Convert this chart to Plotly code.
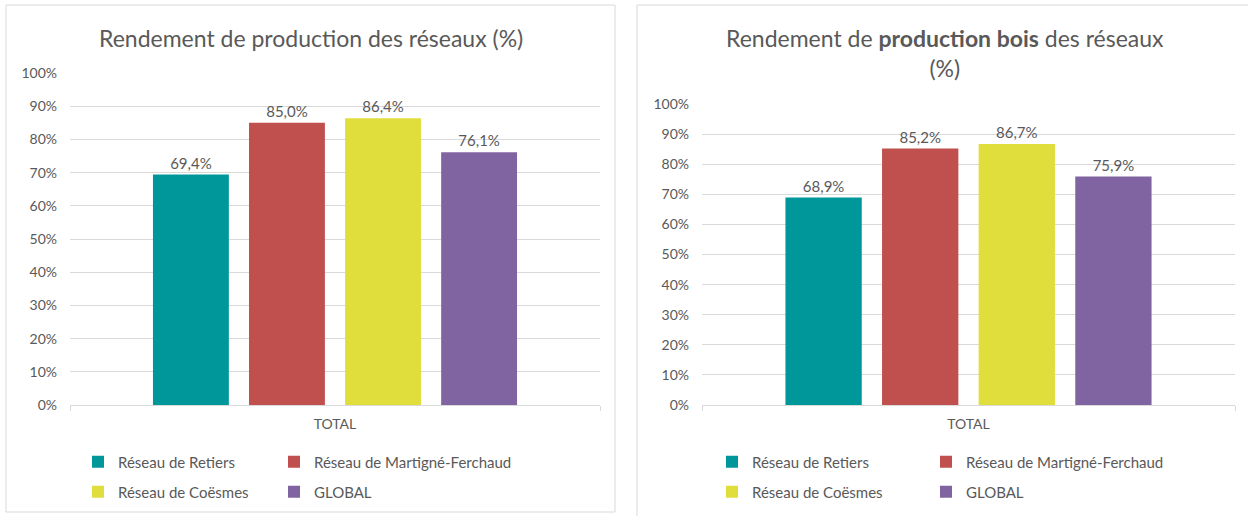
import plotly.graph_objects as go

categories = ["TOTAL"]
series_names = ["Réseau de Retiers", "Réseau de Martigné-Ferchaud", "Réseau de Coësmes", "GLOBAL"]
colors = ["#00979B", "#C0504D", "#E0DE3C", "#8064A2"]
prod_values = [0.694, 0.850, 0.864, 0.761]
bois_values = [0.689, 0.852, 0.867, 0.759]
y_ticks = [0, 0.1, 0.2, 0.3, 0.4, 0.5, 0.6, 0.7, 0.8, 0.9, 1.0]

W, H = 1248, 516
FONT = "Lato, Carlito, Calibri, sans-serif"
GREY = "#595959"

def px(x):
    return x / W

def py(y):
    return 1 - y / H

fig = go.Figure()

# legend slots: (x of legend box left, y center) per panel / series
legend_pos = [
    [(78, 462), (274, 462), (78, 492), (274, 492)],
    [(712, 462), (926, 462), (712, 492), (926, 492)],
]
leg_layout = {}
k = 0
for panel, vals in enumerate([prod_values, bois_values]):
    xa = "x" if panel == 0 else "x2"
    ya = "y" if panel == 0 else "y2"
    for i, name in enumerate(series_names):
        k += 1
        lid = "legend" if k == 1 else f"legend{k}"
        fig.add_trace(go.Bar(
            x=categories, y=[vals[i]], name=name,
            marker=dict(color=colors[i], line=dict(width=0)),
            texttemplate="%{y:.1%}", textposition="outside",
            textfont=dict(family=FONT, size=15, color=GREY),
            cliponaxis=False,
            xaxis=xa, yaxis=ya,
            legend=lid,
            showlegend=True,
        ))
        lx, ly = legend_pos[panel][i]
        leg_layout[lid] = dict(x=px(lx), y=py(ly), xanchor="left", yanchor="middle",
                               orientation="h", font=dict(family=FONT, size=15, color=GREY),
                               bgcolor="rgba(0,0,0,0)", itemclick=False, itemdoubleclick=False)

axis_common = dict(tickfont=dict(family=FONT, size=14, color=GREY))
xaxis_common = dict(showgrid=False, showline=True, linecolor="#D9D9D9", ticks="outside",
                    tickson="boundaries", ticklen=5, tickcolor="#D9D9D9", automargin=False,
                    ticklabelstandoff=6, **axis_common)
yaxis_common = dict(range=[0, 1], tickvals=y_ticks, tickformat=".0%", showgrid=True,
                    gridcolor="#D9D9D9", zeroline=False, showline=False, ticks="",
                    automargin=False, ticklabelstandoff=12, **axis_common)
fig.update_layout(
    width=W, height=H,
    margin=dict(l=0, r=0, t=0, b=0, pad=0, autoexpand=False),
    paper_bgcolor="white", plot_bgcolor="white",
    separators=", ",
    barmode="group", bargap=0.275, bargroupgap=0.21,
    xaxis=dict(domain=[px(70), px(600)], anchor="y", **xaxis_common),
    yaxis=dict(domain=[py(405), py(73)], anchor="x", **yaxis_common),
    xaxis2=dict(domain=[px(702), px(1235)], anchor="y2", **xaxis_common),
    yaxis2=dict(domain=[py(405), py(104)], anchor="x2", **yaxis_common),
    **leg_layout,
)

fig.add_annotation(text="Rendement de production des réseaux (%)", x=px(311), y=py(38),
                   xref="paper", yref="paper", xanchor="center", yanchor="middle", showarrow=False,
                   font=dict(family=FONT, size=23, color=GREY))
fig.add_annotation(text="Rendement de <b>production bois</b> des réseaux<br>(%)", x=px(945), y=py(53),
                   xref="paper", yref="paper", xanchor="center", yanchor="middle", showarrow=False,
                   font=dict(family=FONT, size=23, color=GREY))

fig.add_shape(type="rect", xref="paper", yref="paper", x0=px(6), x1=px(615), y0=py(512), y1=py(5),
              line=dict(color="#D9D9D9", width=1), layer="below")
fig.add_shape(type="rect", xref="paper", yref="paper", x0=px(637), x1=px(1252), y0=py(520), y1=py(5),
              line=dict(color="#D9D9D9", width=1), layer="below")

fig.write_html("out.html", config={"displayModeBar": False},
               post_script="document.body.style.margin='0';")
